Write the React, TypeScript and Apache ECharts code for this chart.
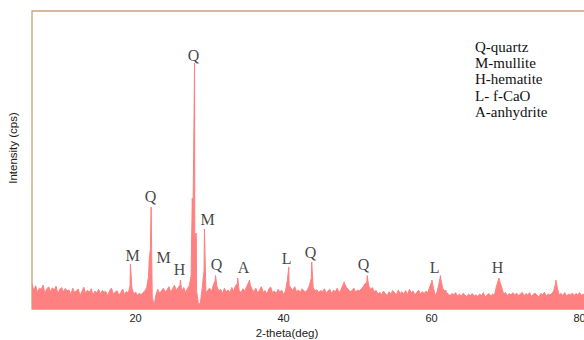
import React, { useEffect, useRef } from "react";
import * as echarts from "echarts";

// 2-theta grid of the background pattern: starts at 6°, one value every 0.25°
const X_START = 6;
const X_STEP = 0.25;
// background intensity (arbitrary units), 20 values per 5°
const BASE: number[] = [
  // 6.00 – 10.75
  84, 62, 78, 55, 70, 66, 80, 52, 68, 74, 58, 71, 63, 77, 50, 66, 72, 57, 69, 61,
  // 11.00 – 15.75
  64, 48, 70, 55, 61, 67, 45, 59, 73, 52, 63, 56, 68, 47, 60, 54, 66, 50, 62, 57,
  // 16.00 – 20.75
  58, 44, 63, 70, 49, 57, 61, 46, 55, 67, 48, 59, 52, 78, 70, 50, 57, 45, 53, 48,
  // 21.00 – 25.75
  55, 60, 72, 110, 200, 40, 12, 48, 66, 52, 61, 70, 58, 64, 75, 56, 68, 80, 62, 72,
  // 26.00 – 30.75
  80, 60, 72, 55, 68, 78, 110, 300, 240, 60, 15, 20, 70, 130, 55, 62, 70, 58, 80, 95,
  // 31.00 – 35.75
  75, 60, 66, 52, 70, 58, 64, 55, 72, 60, 78, 85, 62, 55, 68, 60, 75, 88, 80, 66,
  // 36.00 – 40.75
  58, 70, 54, 63, 75, 56, 62, 50, 67, 74, 55, 60, 52, 66, 58, 63, 48, 60, 95, 80,
  // 41.00 – 45.75
  70, 62, 75, 58, 64, 55, 68, 60, 57, 66, 80, 104, 72, 60, 65, 55, 62, 58, 68, 54,
  // 46.00 – 50.75
  60, 66, 52, 63, 58, 70, 55, 64, 80, 85, 72, 66, 58, 62, 70, 56, 64, 60, 68, 75,
  // 51.00 – 55.75
  85, 90, 78, 66, 72, 58, 62, 50, 56, 48, 60, 52, 45, 58, 50, 62, 55, 47, 64, 52,
  // 56.00 – 60.75
  58, 50, 62, 48, 66, 55, 60, 47, 56, 63, 50, 58, 52, 60, 55, 75, 90, 70, 45, 58,
  // 61.00 – 65.75
  85, 100, 70, 60, 56, 50, 45, 52, 48, 55, 44, 50, 42, 53, 47, 40, 50, 45, 52, 43,
  // 66.00 – 70.75
  48, 42, 50, 45, 55, 40, 47, 52, 44, 50, 46, 75, 95, 90, 70, 50, 55, 45, 52, 47,
  // 71.00 – 75.75
  55, 48, 53, 45, 50, 56, 44, 52, 47, 55, 42, 50, 53, 46, 40, 52, 48, 56, 44, 50,
  // 76.00 – 80.75
  47, 52, 60, 85, 70, 48, 52, 45, 55, 43, 50, 47, 53, 45, 52, 48, 55, 46, 50, 44,
  // 81.00 – 83.25
  50, 47, 54, 45, 52, 48, 50, 46, 53, 49,
];

// sharp diffraction peaks [2-theta, intensity]
const PEAKS: [number, number][] = [
  [19.3, 151], [21.85, 171], [22.1, 342], [26.05, 97], [27.66, 372],
  [27.88, 610], [27.97, 825], [28.2, 255], [29.3, 268], [30.8, 112],
  [33.8, 104], [35.4, 97], [40.7, 141], [43.8, 158], [48.2, 91],
  [51.3, 112], [60.05, 97], [61.2, 112], [61.9, 64], [69.1, 104], [76.8, 97],
];

// phase letters placed over the peaks [2-theta, intensity, letter]
const PHASE_LABELS: [number, number, string][] = [
  [27.84, 852, "Q"], [22.03, 376, "Q"], [19.59, 181, "M"], [23.78, 174, "M"],
  [25.95, 131, "H"], [29.73, 302, "M"], [30.95, 148, "Q"], [34.59, 138, "A"],
  [40.41, 171, "L"], [43.65, 188, "Q"], [50.81, 151, "Q"], [60.41, 138, "L"],
  [68.92, 138, "H"],
];

const LEGEND_LINES = ["Q-quartz", "M-mullite", "H-hematite", "L- f-CaO", "A-anhydrite"];
const X_TICKS = [20, 40, 60, 80];
const X_NAME = "2-theta(deg)";
const Y_NAME = "Intensity (cps)";

export default function App() {
  const ref = useRef<HTMLDivElement>(null);
  useEffect(() => {
    if (!ref.current) return;
    const chart = echarts.init(ref.current, null, { renderer: "svg" });
    const pts: [number, number][] = BASE.map((v, i) => [X_START + i * X_STEP, v]);
    const all = pts.concat(PEAKS).sort((a, b) => a[0] - b[0]);
    const pink = "#ff8080";
    chart.setOption({
      animation: false,
      grid: {
        left: 32, right: 0, top: 11, bottom: 31,
        show: true, borderColor: "#c8a27e", borderWidth: 1.3, backgroundColor: "transparent",
      },
      xAxis: {
        type: "value", min: 6, max: 83.3,
        axisLine: { show: false },
        axisTick: { show: false },
        splitLine: { show: false },
        axisLabel: {
          customValues: X_TICKS, margin: 3, color: "#222", fontSize: 11,
          fontFamily: "Liberation Sans",
        },
      },
      yAxis: {
        type: "value", min: 0, max: 1000,
        axisLine: { show: false }, axisTick: { show: false },
        axisLabel: { show: false }, splitLine: { show: false },
      },
      series: [
        {
          type: "line", data: all, symbol: "none",
          lineStyle: { color: pink, width: 1 },
          areaStyle: { color: pink, opacity: 1 },
          silent: true, z: 2,
        },
        {
          type: "scatter", symbolSize: 1, itemStyle: { color: "rgba(0,0,0,0)" }, silent: true, z: 5,
          data: PHASE_LABELS.map(([x, y, t]) => ({ value: [x, y], name: t })),
          label: {
            show: true, position: "inside", formatter: (p: any) => p.name,
            color: "#111", fontSize: 16, fontFamily: "Liberation Serif",
          },
        },
      ],
      graphic: [
        {
          type: "text", left: 475, top: 38.5,
          style: {
            text: LEGEND_LINES.join("\n"), fill: "#111",
            font: "15px 'Liberation Serif'", lineHeight: 16.3,
          },
        },
        {
          type: "text", x: 287, y: 333,
          style: {
            text: X_NAME, fill: "#222", font: "11.5px 'Liberation Sans'",
            align: "center", verticalAlign: "middle",
          },
        },
        {
          type: "text", x: 13, y: 148, rotation: Math.PI / 2,
          style: {
            text: Y_NAME, fill: "#222", font: "11.5px 'Liberation Sans'",
            align: "center", verticalAlign: "middle",
          },
        },
      ],
    });
    return () => chart.dispose();
  }, []);
  return (
    <div
      ref={ref}
      style={{ position: "fixed", left: 0, top: 0, width: 604, height: 340, background: "#fff" }}
    />
  );
}
